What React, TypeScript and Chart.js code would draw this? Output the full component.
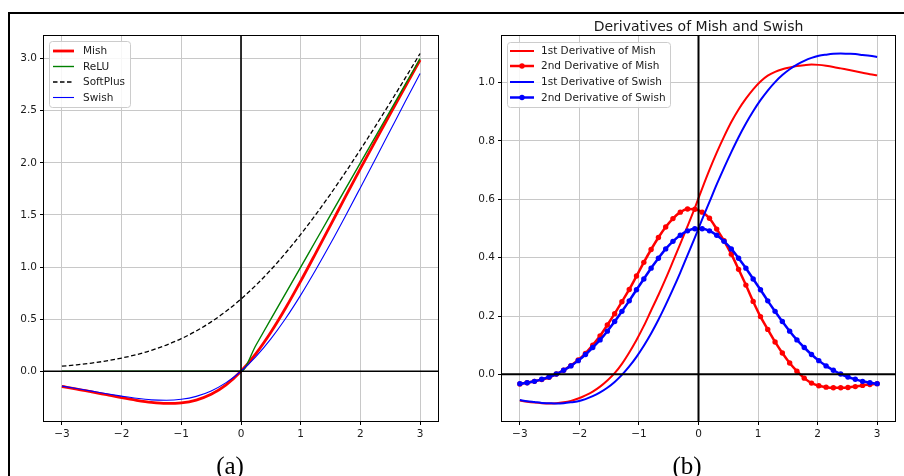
import React, { useEffect, useRef } from "react";
import { Chart, registerables } from "chart.js";
Chart.register(...registerables);

const FONT = '"DejaVu Sans", "Liberation Sans", sans-serif';
const SERIF = '"Liberation Serif", "Times New Roman", serif';
const TEXT = "#1a1a1a";

// ---------- tick labels / axis values ----------
const xTicks = [-3, -2, -1, 0, 1, 2, 3];
const yTicksA = [0, 0.5, 1, 1.5, 2, 2.5, 3];
const yTicksB = [0, 0.2, 0.4, 0.6, 0.8, 1.0];
const xRange = [-3.3, 3.3];
const yRangeA = [-0.477, 3.217];
const yRangeB = [-0.16, 1.16];

// ---------- panel (a): activation functions ----------
const labelsA = ["Mish", "ReLU", "SoftPlus", "Swish"];
const xA = [-3, -2.75, -2.5, -2.25, -2, -1.75, -1.5, -1.25, -1, -0.75, -0.5, -0.25, 0,
  0.25, 0.5, 0.75, 1, 1.25, 1.5, 1.75, 2, 2.25, 2.5, 2.75, 3];
const mishA = [-0.146, -0.170, -0.197, -0.225, -0.253, -0.278, -0.298, -0.308, -0.303, -0.276, -0.221, -0.130, 0,
  0.170, 0.375, 0.610, 0.865, 1.132, 1.403, 1.675, 1.944, 2.209, 2.471, 2.730, 2.987];
const reluA = [0, 0, 0, 0, 0, 0, 0, 0, 0, 0, 0, 0, 0,
  0.25, 0.5, 0.75, 1, 1.25, 1.5, 1.75, 2, 2.25, 2.5, 2.75, 3];
const softplusA = [0.049, 0.062, 0.079, 0.100, 0.127, 0.160, 0.201, 0.252, 0.313, 0.387, 0.474, 0.576, 0.693,
  0.826, 0.974, 1.137, 1.313, 1.502, 1.701, 1.910, 2.127, 2.350, 2.579, 2.812, 3.049];
const swishA = [-0.142, -0.165, -0.190, -0.215, -0.238, -0.259, -0.274, -0.278, -0.269, -0.241, -0.189, -0.109, 0,
  0.141, 0.311, 0.509, 0.731, 0.972, 1.226, 1.491, 1.762, 2.035, 2.310, 2.585, 2.858];

// ---------- panel (b): derivatives ----------
const titleB = "Derivatives of Mish and Swish";
const labelsB = ["1st Derivative of Mish", "2nd Derivative of Mish", "1st Derivative of Swish", "2nd Derivative of Swish"];
const xB = [-3, -2.878, -2.755, -2.633, -2.510, -2.388, -2.265, -2.143, -2.020, -1.898,
  -1.776, -1.653, -1.531, -1.408, -1.286, -1.163, -1.041, -0.918, -0.796, -0.673,
  -0.551, -0.429, -0.306, -0.184, -0.061, 0.061, 0.184, 0.306, 0.429, 0.551,
  0.673, 0.796, 0.918, 1.041, 1.163, 1.286, 1.408, 1.531, 1.653, 1.776,
  1.898, 2.020, 2.143, 2.265, 2.388, 2.510, 2.633, 2.755, 2.878, 3];
const mishD1 = [-0.090, -0.094, -0.097, -0.099, -0.100, -0.099, -0.096, -0.091, -0.083, -0.072,
  -0.059, -0.042, -0.021, 0.004, 0.036, 0.075, 0.118, 0.166, 0.219, 0.272,
  0.328, 0.387, 0.447, 0.508, 0.571, 0.637, 0.701, 0.760, 0.815, 0.865,
  0.908, 0.945, 0.977, 1.004, 1.024, 1.037, 1.046, 1.052, 1.057, 1.060,
  1.062, 1.061, 1.058, 1.054, 1.049, 1.044, 1.039, 1.034, 1.029, 1.025];
const mishD2 = [-0.033, -0.029, -0.024, -0.018, -0.010, 0.001, 0.014, 0.030, 0.049, 0.072,
  0.100, 0.132, 0.169, 0.208, 0.249, 0.291, 0.337, 0.384, 0.428, 0.469,
  0.505, 0.534, 0.556, 0.567, 0.566, 0.556, 0.535, 0.498, 0.458, 0.412,
  0.360, 0.306, 0.250, 0.198, 0.154, 0.111, 0.073, 0.039, 0.011, -0.013,
  -0.030, -0.039, -0.044, -0.046, -0.046, -0.045, -0.042, -0.038, -0.035, -0.032];
const swishD1 = [-0.088, -0.092, -0.095, -0.098, -0.099, -0.100, -0.099, -0.096, -0.092, -0.085,
  -0.075, -0.062, -0.046, -0.026, -0.002, 0.027, 0.060, 0.098, 0.140, 0.187,
  0.238, 0.292, 0.349, 0.409, 0.469, 0.531, 0.591, 0.651, 0.708, 0.762,
  0.813, 0.860, 0.902, 0.940, 0.973, 1.002, 1.026, 1.046, 1.062, 1.075,
  1.085, 1.092, 1.096, 1.099, 1.100, 1.099, 1.098, 1.095, 1.092, 1.088];
const swishD2 = [-0.032, -0.029, -0.024, -0.017, -0.009, 0.001, 0.014, 0.029, 0.047, 0.068,
  0.092, 0.118, 0.148, 0.181, 0.216, 0.252, 0.290, 0.327, 0.364, 0.398,
  0.430, 0.456, 0.477, 0.492, 0.499, 0.499, 0.492, 0.477, 0.456, 0.430,
  0.398, 0.364, 0.327, 0.290, 0.252, 0.216, 0.181, 0.148, 0.118, 0.092,
  0.068, 0.047, 0.029, 0.014, 0.001, -0.009, -0.017, -0.024, -0.029, -0.032];

type Style = { color: string; width: number; dash?: number[]; marker?: boolean };

const stylesA: Style[] = [
  { color: "#ff0000", width: 2.8 },
  { color: "#008000", width: 1.4 },
  { color: "#000000", width: 1.3, dash: [4.5, 2.5] },
  { color: "#0000ff", width: 1.1 },
];
const stylesB: Style[] = [
  { color: "#ff0000", width: 2 },
  { color: "#ff0000", width: 2.5, marker: true },
  { color: "#0000ff", width: 2 },
  { color: "#0000ff", width: 2.5, marker: true },
];

function fmt(v: number, d: number) {
  const s = Math.abs(v).toFixed(d);
  return v < -1e-9 ? "\u2212" + s : s;
}

function roundRect(ctx: any, x: number, y: number, w: number, h: number, r: number) {
  ctx.beginPath();
  ctx.moveTo(x + r, y);
  ctx.lineTo(x + w - r, y);
  ctx.arcTo(x + w, y, x + w, y + r, r);
  ctx.lineTo(x + w, y + h - r);
  ctx.arcTo(x + w, y + h, x + w - r, y + h, r);
  ctx.lineTo(x + r, y + h);
  ctx.arcTo(x, y + h, x, y + h - r, r);
  ctx.lineTo(x, y + r);
  ctx.arcTo(x, y, x + r, y, r);
  ctx.closePath();
}

type Panel = {
  xs: number[];
  series: number[][];
  labels: string[];
  styles: Style[];
  yRange: number[];
  yTicks: number[];
  yDec: number;
  yWidth: number;
  pad: { top: number; right: number; bottom: number; left: number };
  title?: string;
  zeroWidth: number;
  legend: { x: number; y: number; w: number; h: number; rows: number[]; l0: number; l1: number; tx: number };
  caption: string;
  captionX: number;
};

function decorPlugin(p: Panel) {
  return {
    id: "decor",
    afterDatasetsDraw(chart: any) {
      const { ctx, chartArea: a, scales } = chart;
      ctx.save();
      // zero lines (drawn over the curves, as in the original)
      const x0 = scales.x.getPixelForValue(0);
      const y0 = scales.y.getPixelForValue(0);
      ctx.strokeStyle = "#000";
      ctx.lineWidth = p.zeroWidth;
      ctx.beginPath();
      ctx.moveTo(a.left, y0);
      ctx.lineTo(a.right, y0);
      ctx.moveTo(x0, a.top);
      ctx.lineTo(x0, a.bottom);
      ctx.stroke();
      // axes frame
      ctx.lineWidth = 1;
      ctx.strokeRect(a.left - 0.5, a.top - 0.5, a.right - a.left + 1, a.bottom - a.top + 1);
      // legend
      const L = p.legend;
      roundRect(ctx, L.x + 0.5, L.y + 0.5, L.w, L.h, 3);
      ctx.fillStyle = "rgba(255,255,255,0.85)";
      ctx.fill();
      ctx.strokeStyle = "#cccccc";
      ctx.lineWidth = 1;
      ctx.stroke();
      p.labels.forEach((lab, i) => {
        const st = p.styles[i];
        const y = L.rows[i];
        ctx.save();
        ctx.strokeStyle = st.color;
        ctx.lineWidth = st.width;
        ctx.setLineDash(st.dash || []);
        ctx.beginPath();
        ctx.moveTo(L.x + L.l0, y);
        ctx.lineTo(L.x + L.l1, y);
        ctx.stroke();
        if (st.marker) {
          ctx.fillStyle = st.color;
          ctx.beginPath();
          ctx.arc(L.x + (L.l0 + L.l1) / 2, y, 2.7, 0, Math.PI * 2);
          ctx.fill();
        }
        ctx.restore();
        ctx.fillStyle = TEXT;
        ctx.font = `10.5px ${FONT}`;
        ctx.textAlign = "left";
        ctx.textBaseline = "middle";
        ctx.fillText(lab, L.x + L.tx, y + 0.5);
      });
      ctx.restore();
    },
    afterDraw(chart: any) {
      const { ctx } = chart;
      ctx.save();
      ctx.fillStyle = "#000";
      ctx.font = `25px ${SERIF}`;
      ctx.textAlign = "center";
      ctx.textBaseline = "alphabetic";
      ctx.fillText(p.caption, p.captionX, 474);
      ctx.restore();
    },
  };
}

function buildConfig(p: Panel): any {
  const tickFont = { family: FONT, size: 10.5 };
  const grid = { color: "#c8c8c8", lineWidth: 1, drawTicks: true, tickLength: 4, tickColor: "#000", tickWidth: 1 };
  return {
    type: "line",
    data: {
      datasets: p.series.map((ys, i) => {
        const st = p.styles[i];
        return {
          label: p.labels[i],
          data: p.xs.map((x, j) => ({ x, y: ys[j] })),
          borderColor: st.color,
          backgroundColor: st.color,
          borderWidth: st.width,
          borderDash: st.dash || [],
          pointRadius: st.marker ? 2.7 : 0,
          pointBorderWidth: 0,
          pointBackgroundColor: st.color,
          fill: false,
          cubicInterpolationMode: "monotone",
          order: p.series.length - i,
        };
      }),
    },
    options: {
      responsive: false,
      animation: false,
      devicePixelRatio: 1,
      layout: { padding: p.pad },
      plugins: {
        legend: { display: false },
        tooltip: { enabled: false },
        title: p.title
          ? {
              display: true,
              text: p.title,
              fullSize: false,
              color: TEXT,
              font: { family: FONT, size: 14, weight: "normal" },
              padding: { top: 19, bottom: 0.2 },
            }
          : { display: false },
      },
      scales: {
        x: {
          type: "linear",
          min: xRange[0],
          max: xRange[1],
          afterBuildTicks: (s: any) => {
            s.ticks = xTicks.map((v) => ({ value: v }));
          },
          afterFit: (s: any) => {
            s.height = 30;
          },
          ticks: { callback: (v: any) => fmt(Number(v), 0), font: tickFont, color: TEXT, padding: 3, maxRotation: 0, autoSkip: false },
          grid,
          border: { display: false },
        },
        y: {
          type: "linear",
          min: p.yRange[0],
          max: p.yRange[1],
          afterBuildTicks: (s: any) => {
            s.ticks = p.yTicks.map((v) => ({ value: v }));
          },
          afterFit: (s: any) => {
            s.width = p.yWidth;
          },
          ticks: { callback: (v: any) => fmt(Number(v), p.yDec), font: tickFont, color: TEXT, padding: 3, autoSkip: false },
          grid,
          border: { display: false },
        },
      },
    },
    plugins: [decorPlugin(p)],
  };
}

const panelA: Panel = {
  xs: xA,
  series: [mishA, reluA, softplusA, swishA],
  labels: labelsA,
  styles: stylesA,
  yRange: yRangeA,
  yTicks: yTicksA,
  yDec: 1,
  yWidth: 44,
  pad: { top: 36, right: 14, bottom: 25, left: 0 },
  zeroWidth: 1.6,
  legend: { x: 49, y: 41, w: 81, h: 66, rows: [51, 66.5, 82, 97.5], l0: 4, l1: 25, tx: 34 },
  caption: "(a)",
  captionX: 230,
};

const panelB: Panel = {
  xs: xB,
  series: [mishD1, mishD2, swishD1, swishD2],
  labels: labelsB,
  styles: stylesB,
  yRange: yRangeB,
  yTicks: yTicksB,
  yDec: 1,
  yWidth: 50,
  pad: { top: 0, right: 9, bottom: 25, left: 0 },
  title: titleB,
  zeroWidth: 2,
  legend: { x: 55, y: 42, w: 163, h: 65, rows: [51, 66, 82, 97.5], l0: 3, l1: 27, tx: 34 },
  caption: "(b)",
  captionX: 235,
};

function PanelChart({ panel, left }: { panel: Panel; left: number }) {
  const ref = useRef<HTMLCanvasElement | null>(null);
  useEffect(() => {
    if (!ref.current) return;
    const chart = new Chart(ref.current, buildConfig(panel));
    return () => chart.destroy();
  }, [panel]);
  return (
    <canvas
      ref={ref}
      width={452}
      height={476}
      style={{ position: "absolute", left, top: 0, width: 452, height: 476 }}
    />
  );
}

export default function App() {
  return (
    <div
      style={{
        position: "fixed",
        left: 0,
        top: 0,
        width: 904,
        height: 476,
        background: "#fff",
        overflow: "hidden",
      }}
    >
      <div
        style={{
          position: "absolute",
          left: 8,
          top: 12,
          width: 904,
          height: 476,
          borderLeft: "2px solid #000",
          borderTop: "2px solid #000",
        }}
      />
      <PanelChart panel={panelA} left={0} />
      <PanelChart panel={panelB} left={452} />
    </div>
  );
}
